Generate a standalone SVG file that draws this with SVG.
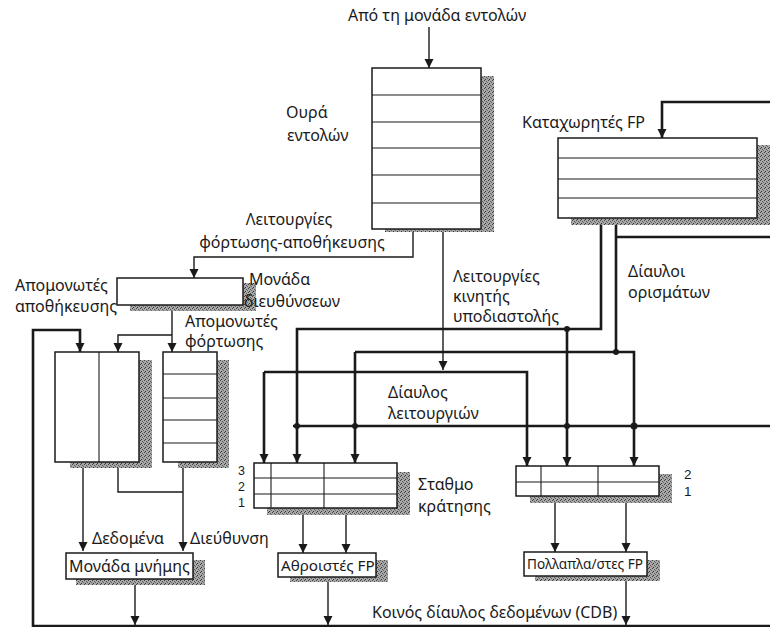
<svg xmlns="http://www.w3.org/2000/svg" width="770" height="627" viewBox="0 0 770 627">
<defs>
<pattern id="stip" width="4" height="4" patternUnits="userSpaceOnUse">
<rect width="4" height="4" fill="#a8a8a8"/>
<rect x="0" y="0" width="1" height="1" fill="#444"/>
<rect x="2" y="1" width="1" height="1" fill="#555"/>
<rect x="1" y="3" width="1" height="1" fill="#333"/>
<rect x="3" y="2" width="1" height="1" fill="#666"/>
</pattern>
<marker id="ah" viewBox="0 0 10 10" refX="10" refY="5" markerWidth="9" markerHeight="10" markerUnits="userSpaceOnUse" orient="auto">
<path d="M0,0 L10,5 L0,10 z" fill="#1a1a1a"/>
</marker>
</defs>
<style>
text{font-family:"Noto Sans","DejaVu Sans",sans-serif;font-size:16px;fill:#1a1a1a}
.num{font-family:"Liberation Sans",Arial,sans-serif;font-size:12.5px}
.sh{fill:url(#stip)}
.box{fill:#fff;stroke:#1a1a1a;stroke-width:1.5}
.in{fill:none;stroke:#1a1a1a;stroke-width:1.1}
.thick{fill:none;stroke:#1a1a1a;stroke-width:2.6}
.thin{fill:none;stroke:#1a1a1a;stroke-width:1.4}
.arr{marker-end:url(#ah)}
.dot{fill:#1a1a1a}
</style>
<rect width="770" height="627" fill="#fff"/>

<g id="connectors">
<path class="thick arr" d="M770,102 H662 V138"/>
<path class="thick arr" d="M601,218 V329 H297 V463"/>
<path class="thick arr" d="M567,329 V466"/>
<path class="thick" d="M616,218 V352"/>
<path class="thick" d="M616,237 H770"/>
<path class="thick arr" d="M355,352 H634 V466"/>
<path class="thick arr" d="M355,352 V463"/>
<path class="thick arr" d="M264,372 H527 V466"/>
<path class="thick arr" d="M264,372 V463"/>
<path class="thick" d="M293,426 H770"/>
<path class="thick arr" d="M33,627 V330 H80 V352"/>
<path class="thick" d="M33,626 H770"/>
<circle class="dot" cx="567" cy="329" r="3"/>
<circle class="dot" cx="616" cy="352" r="3"/>
<circle class="dot" cx="297" cy="426" r="3"/>
<circle class="dot" cx="355" cy="426" r="3"/>
<circle class="dot" cx="567" cy="426" r="3"/>
<circle class="dot" cx="634" cy="426" r="3.5"/>
<path class="thin arr" d="M429,27 V68"/>
<path class="thin arr" d="M443,229 V370"/>
<path class="thin arr" d="M413,229 V257 H194 V278"/>
<path class="thin arr" d="M172,305 V352"/>
<path class="thin arr" d="M172,335 H118 V352"/>
<path class="thin arr" d="M83,462 V551"/>
<path class="thin" d="M118,462 V492 H183"/>
<path class="thin arr" d="M183,462 V551"/>
<path class="thin arr" d="M303,508 V553"/>
<path class="thin arr" d="M346,508 V553"/>
<path class="thin arr" d="M555,496 V552"/>
<path class="thin arr" d="M626,496 V552"/>
<path class="thin arr" d="M135,579 V625"/>
<path class="thin arr" d="M328,577 V625"/>
<path class="thin arr" d="M626,576 V625"/>
</g>

<g id="instruction-unit-label">
<text x="348" y="21">Από τη μονάδα εντολών</text>
</g>

<g id="instruction-queue">
<rect class="sh" x="385" y="76" width="109" height="156"/>
<rect class="box" x="372" y="68" width="109" height="161"/>
<path class="in" d="M372,95 H481 M372,122 H481 M372,148 H481 M372,175 H481 M372,203 H481"/>
<text x="286" y="118">Ουρά</text>
<text x="287" y="141">εντολών</text>
</g>

<g id="fp-registers">
<rect class="sh" x="571" y="145" width="199" height="80"/>
<rect class="box" x="558" y="138" width="199" height="80"/>
<path class="in" d="M558,158 H757 M558,179 H757 M558,198 H757"/>
<text x="522" y="128">Καταχωρητές FP</text>
</g>

<g id="address-unit">
<rect class="sh" x="130" y="283" width="126" height="28"/>
<rect class="box" x="117" y="278" width="126" height="27"/>
<text x="249" y="285">Μονάδα</text>
<text x="244" y="307">διευθύνσεων</text>
</g>

<g id="store-buffers">
<rect class="sh" x="70" y="360" width="82" height="108"/>
<rect class="box" x="55" y="352" width="84" height="110"/>
<path class="in" d="M99,352 V462"/>
<text x="15" y="291">Απομονωτές</text>
<text x="15" y="312">αποθήκευσης</text>
</g>

<g id="load-buffers">
<rect class="sh" x="178" y="360" width="51" height="108"/>
<rect class="box" x="163" y="352" width="54" height="110"/>
<path class="in" d="M163,374 H217 M163,398 H217 M163,420 H217 M163,443 H217"/>
<text x="185" y="327">Απομονωτές</text>
<text x="185" y="347">φόρτωσης</text>
</g>

<g id="ls-ops-label">
<text x="289" y="225" text-anchor="middle">Λειτουργίες</text>
<text x="292" y="248" text-anchor="middle">φόρτωσης-αποθήκευσης</text>
</g>

<g id="fp-ops-label">
<text x="453" y="282">Λειτουργίες</text>
<text x="453" y="302">κινητής</text>
<text x="453" y="322">υποδιαστολής</text>
</g>

<g id="operand-bus-label">
<text x="628" y="277">Δίαυλοι</text>
<text x="628" y="298">ορισμάτων</text>
</g>

<g id="operation-bus-label">
<text x="388" y="398">Δίαυλος</text>
<text x="388" y="419">λειτουργιών</text>
</g>

<g id="rs-adders">
<rect class="sh" x="267" y="472" width="143" height="43"/>
<rect class="box" x="254" y="463" width="143" height="45"/>
<path class="in" d="M254,478 H397 M254,494 H397 M271,463 V508 M324,463 V508"/>
<text class="num" x="238" y="475">3</text>
<text class="num" x="238" y="491">2</text>
<text class="num" x="238" y="507">1</text>
<text x="418" y="490">Σταθμο</text>
<text x="418" y="512">κράτησης</text>
</g>

<g id="rs-multipliers">
<rect class="sh" x="530" y="474" width="142" height="29"/>
<rect class="box" x="516" y="466" width="143" height="30"/>
<path class="in" d="M516,482 H659 M541,466 V496 M598,466 V496"/>
<text class="num" x="684" y="479" style="font-size:13.5px">2</text>
<text class="num" x="684" y="496" style="font-size:13.5px">1</text>
</g>

<g id="memory-unit">
<rect class="sh" x="76" y="560" width="129" height="25"/>
<rect class="box" x="66" y="553" width="127" height="26"/>
<text x="69" y="572">Μονάδα μνήμης</text>
<text x="92" y="544">Δεδομένα</text>
<text x="190" y="544">Διεύθυνση</text>
</g>

<g id="fp-adders">
<rect class="sh" x="290" y="560" width="98" height="22"/>
<rect class="box" x="278" y="553" width="98" height="24"/>
<text x="281" y="571" style="font-size:15.2px">Αθροιστές FP</text>
</g>

<g id="fp-multipliers">
<rect class="sh" x="535" y="560" width="125" height="21"/>
<rect class="box" x="524" y="552" width="123" height="24"/>
<text x="527" y="569" style="font-size:13.6px">Πολλαπλα/στες FP</text>
</g>

<g id="cdb-label">
<text x="372" y="618">Κοινός δίαυλος δεδομένων (CDB)</text>
</g>
</svg>
